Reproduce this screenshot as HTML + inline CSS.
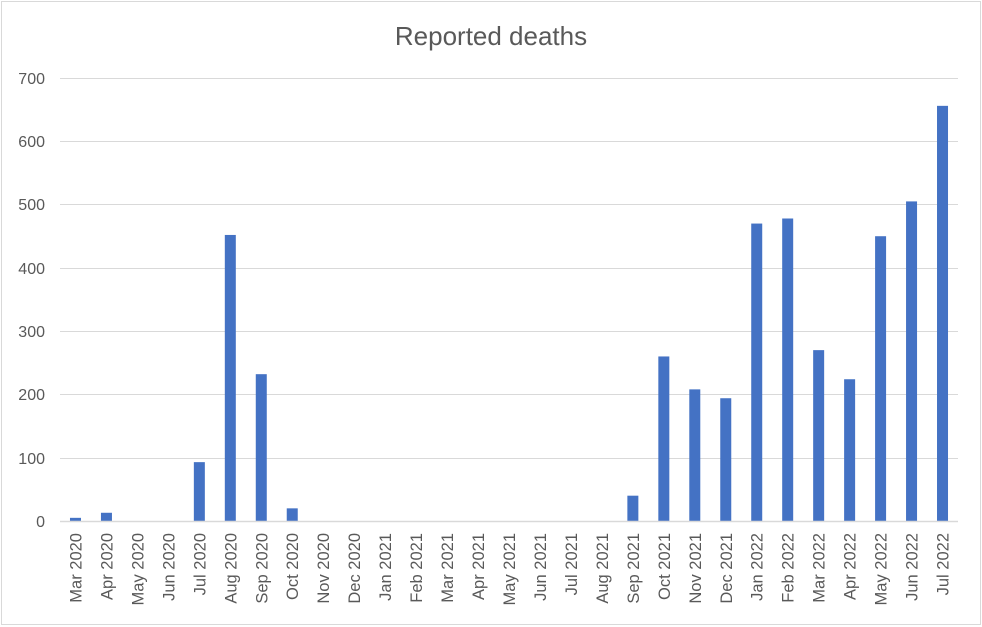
<!DOCTYPE html>
<html><head><meta charset="utf-8"><style>
html,body{margin:0;padding:0;background:#fff}
svg{display:block;font-family:"Liberation Sans",Arial,sans-serif}
</style></head><body>
<svg width="982" height="627" viewBox="0 0 982 627">
<rect x="1.5" y="1.5" width="979" height="623" fill="#fff" stroke="#d9d9d9"/>
<text x="491" y="45" text-anchor="middle" font-size="26" fill="#595959">Reported deaths</text>
<g stroke="#d9d9d9" stroke-width="1">
<line x1="60" x2="958" y1="78.5" y2="78.5"/>
<line x1="60" x2="958" y1="141.5" y2="141.5"/>
<line x1="60" x2="958" y1="204.5" y2="204.5"/>
<line x1="60" x2="958" y1="268.5" y2="268.5"/>
<line x1="60" x2="958" y1="331.5" y2="331.5"/>
<line x1="60" x2="958" y1="394.5" y2="394.5"/>
<line x1="60" x2="958" y1="458.5" y2="458.5"/>
</g>
<g font-size="16" fill="#595959" text-anchor="end">
<text x="45" y="84">700</text><text x="45" y="147">600</text><text x="45" y="210">500</text>
<text x="45" y="274">400</text><text x="45" y="337">300</text><text x="45" y="400">200</text>
<text x="45" y="464">100</text><text x="45" y="527">0</text>
</g>
<g id="bars" fill="#4472c4"></g>
<line x1="60" x2="958" y1="521.5" y2="521.5" stroke="#d9d9d9" stroke-width="1.5"/>
<g id="labels" font-size="16.5" fill="#595959" text-anchor="end"></g>
<script>
var labels=["Mar 2020","Apr 2020","May 2020","Jun 2020","Jul 2020","Aug 2020","Sep 2020","Oct 2020","Nov 2020","Dec 2020","Jan 2021","Feb 2021","Mar 2021","Apr 2021","May 2021","Jun 2021","Jul 2021","Aug 2021","Sep 2021","Oct 2021","Nov 2021","Dec 2021","Jan 2022","Feb 2022","Mar 2022","Apr 2022","May 2022","Jun 2022","Jul 2022"];
var vals=[5,13,0,0,93,452,232,20,0,0,0,0,0,0,0,0,0,0,40,260,208,194,470,478,270,224,450,505,656];
var ns="http://www.w3.org/2000/svg",b=document.getElementById("bars"),l=document.getElementById("labels");
var s=(521-78)/700,w=(958-60)/29;
for(var i=0;i<29;i++){var cx=60+w*(i+0.5);
if(vals[i]>0){var r=document.createElementNS(ns,"rect");r.setAttribute("x",cx-5.5);r.setAttribute("width",11);r.setAttribute("y",521-vals[i]*s);r.setAttribute("height",vals[i]*s);b.appendChild(r);}
var t=document.createElementNS(ns,"text");t.setAttribute("transform","translate("+(cx+6)+",533) rotate(-90)");t.textContent=labels[i];l.appendChild(t);}
</script>
</svg>
</body></html>
